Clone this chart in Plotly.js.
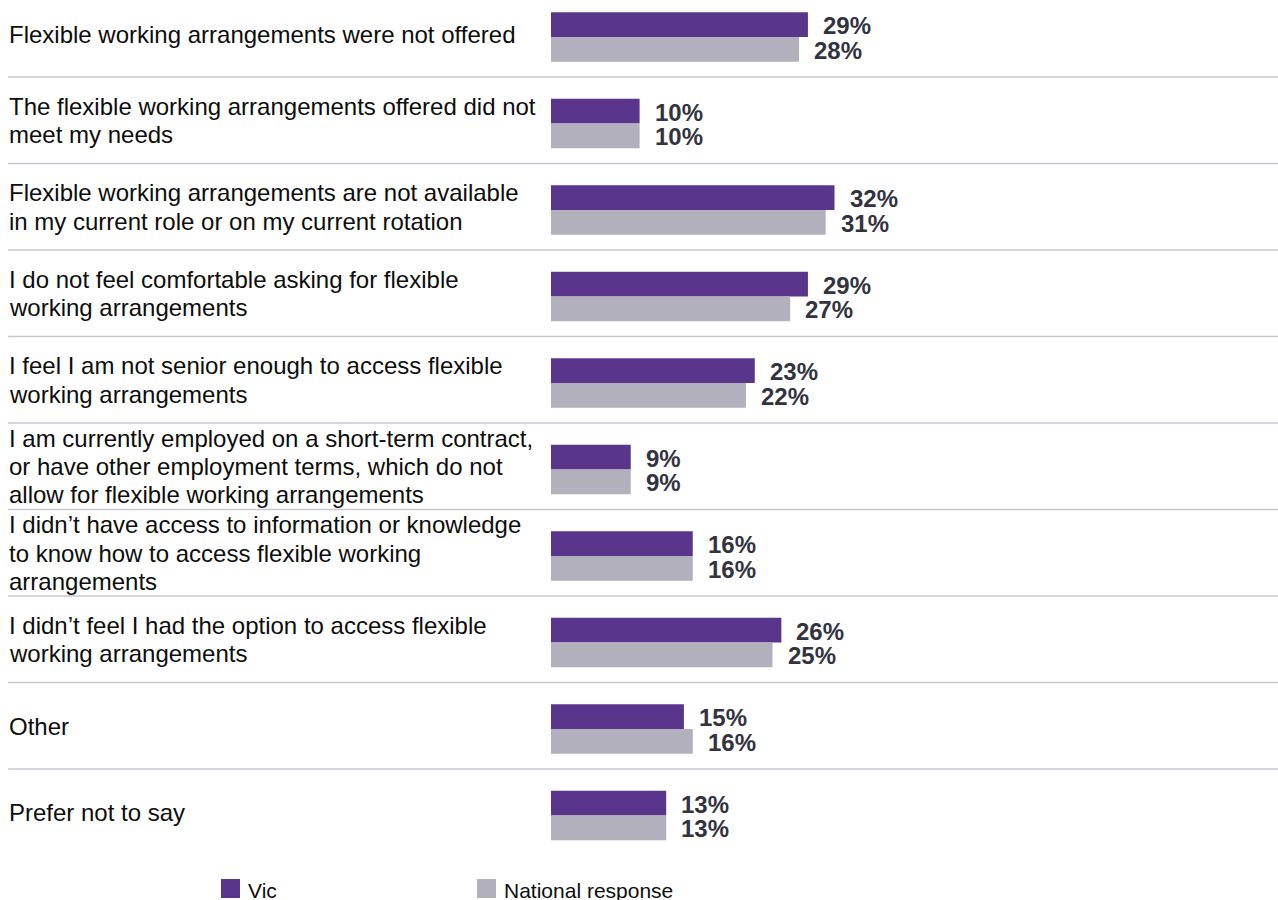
<!DOCTYPE html>
<html>
<head>
<meta charset="utf-8">
<script src="https://cdn.plot.ly/plotly-3.0.1.min.js"></script>
<style>
  html, body { margin: 0; padding: 0; background: #ffffff; }
  #chart { width: 1278px; height: 900px; }
</style>
</head>
<body>
<div id="chart"></div>
<script>
// ---- data ----
const categories = [
  "Flexible working arrangements were not offered",
  "The flexible working arrangements offered did not<br>meet my needs",
  "Flexible working arrangements are not available<br>in my current role or on my current rotation",
  "I do not feel comfortable asking for flexible<br>working arrangements",
  "I feel I am not senior enough to access flexible<br>working arrangements",
  "I am currently employed on a short-term contract,<br>or have other employment terms, which do not<br>allow for flexible working arrangements",
  "I didn\u2019t have access to information or knowledge<br>to know how to access flexible working<br>arrangements",
  "I didn\u2019t feel I had the option to access flexible<br>working arrangements",
  "Other",
  "Prefer not to say"
];
const seriesNames = ["Vic", "National response"];
const vicValues = [29, 10, 32, 29, 23, 9, 16, 26, 15, 13];
const nationalValues = [28, 10, 31, 27, 22, 9, 16, 25, 16, 13];

// ---- styling / layout constants ----
const W = 1278, H = 900;
const plotLeft = 551;
const pxPerUnit = 8.86;
const rowPitch = 86.5;
const firstRowCenter = 37;
const colors = ["#59358c", "#b1b0bc"];
const font = '"Liberation Sans", Arial, Helvetica, sans-serif';

const plotW = W - plotLeft;
const xMax = plotW / pxPerUnit;
const yTop = -firstRowCenter / rowPitch;
const yBottom = yTop + H / rowPitch;

const px2paperX = px => (px - plotLeft) / plotW;
const px2paperY = py => 1 - py / H;

const traces = [
  { type: "bar", orientation: "h", name: seriesNames[0], y: categories, x: vicValues,
    marker: { color: colors[0] }, hoverinfo: "none" },
  { type: "bar", orientation: "h", name: seriesNames[1], y: categories, x: nationalValues,
    marker: { color: colors[1] }, hoverinfo: "none" }
];

const annotations = [];
const shapes = [];

// category labels (left aligned, one annotation per line)
const lineStep = 28.3;
categories.forEach((cat, i) => {
  const lines = cat.split("<br>");
  const k = lines.length;
  lines.forEach((ln, j) => {
    annotations.push({
      xref: "paper", yref: "y", x: px2paperX(7), y: i,
      xanchor: "left", yanchor: "middle",
      yshift: 3 - (j - (k - 1) / 2) * lineStep,
      text: ln, showarrow: false, align: "left",
      font: { family: font, size: 24, color: "#0d0d0d" }
    });
  });
  // separator line
  if (i < categories.length - 1) {
    shapes.push({
      type: "line", xref: "paper", yref: "y",
      x0: px2paperX(8), x1: 1,
      y0: i + 40 / rowPitch, y1: i + 40 / rowPitch,
      line: { color: "#c8c6d0", width: 1.5 }
    });
  }
});

// value labels
const barHalf = rowPitch * (1 - 0.429) / 4;
[vicValues, nationalValues].forEach((vals, s) => {
  vals.forEach((v, i) => {
    annotations.push({
      xref: "x", yref: "y", x: v, y: i,
      xanchor: "left", yanchor: "middle",
      xshift: 13, yshift: (s === 0 ? 1 : -1) * barHalf - 1,
      text: v + "%", showarrow: false,
      font: { family: font, size: 24, color: "#33333f", weight: 700 }
    });
  });
});

// legend (manual)
const legendItems = [{ x: 221 }, { x: 477 }];
legendItems.forEach((it, s) => {
  shapes.push({
    type: "rect", xref: "paper", yref: "paper",
    x0: px2paperX(it.x), x1: px2paperX(it.x + 19),
    y0: px2paperY(898), y1: px2paperY(879),
    line: { width: 0 }, fillcolor: colors[s]
  });
  annotations.push({
    xref: "paper", yref: "paper", x: px2paperX(it.x + 25), y: px2paperY(890),
    xanchor: "left", yanchor: "middle", text: seriesNames[s], showarrow: false,
    font: { family: font, size: 21, color: "#0d0d0d" }
  });
});

const layout = {
  width: W, height: H,
  margin: { l: plotLeft, r: 0, t: 0, b: 0, pad: 0 },
  paper_bgcolor: "#ffffff", plot_bgcolor: "#ffffff",
  barmode: "group", bargap: 0.429, bargroupgap: 0,
  showlegend: false,
  xaxis: { range: [0, xMax], visible: false, fixedrange: true },
  yaxis: { type: "category", range: [yBottom, yTop], showticklabels: false,
           showgrid: false, zeroline: false, showline: false, ticks: "", fixedrange: true },
  annotations: annotations,
  shapes: shapes,
  font: { family: font }
};

Plotly.newPlot("chart", traces, layout, { displayModeBar: false, staticPlot: true });
</script>
</body>
</html>
